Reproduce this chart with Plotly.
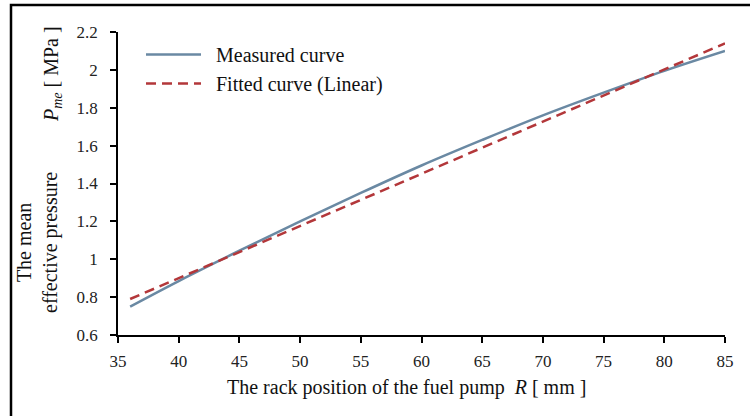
import plotly.graph_objects as go

# Data
rack_measured = [36, 40, 45, 50, 55, 60, 65, 70, 75, 80, 85]
pme_measured = [0.75, 0.885, 1.045, 1.20, 1.35, 1.495, 1.63, 1.76, 1.88, 1.995, 2.10]
rack_fitted = [36, 85]
pme_fitted = [0.79, 2.14]

x_ticks = [35, 40, 45, 50, 55, 60, 65, 70, 75, 80, 85]
y_ticks = [0.6, 0.8, 1.0, 1.2, 1.4, 1.6, 1.8, 2.0, 2.2]

FONT = "Liberation Serif, Times New Roman, serif"

fig = go.Figure()
fig.add_trace(go.Scatter(
    x=rack_measured, y=pme_measured, mode="lines", name="\u00a0\u00a0Measured curve",
    line=dict(color="#6a89a3", width=2.5, shape="spline"), legendgroup="a"))
fig.add_trace(go.Scatter(
    x=rack_fitted, y=pme_fitted, mode="lines", name="\u00a0\u00a0Fitted curve (Linear)",
    line=dict(color="#b3373a", width=2.5, dash="10px,6px"), legendgroup="b"))

L, R, T, B = 118, 25, 32, 81
W, H = 750, 416
pw = W - L - R
ph = H - T - B

def px(xp):
    return (xp - L) / pw

def py(yp):
    return (H - B - yp) / ph

axis_common = dict(showgrid=False, zeroline=False, showline=True, linecolor="black",
                   linewidth=1.5, ticks="outside", ticklen=6, tickwidth=1.5,
                   tickcolor="black", tickfont=dict(family=FONT, size=17, color="#222"))

fig.update_xaxes(range=[35, 85], tickvals=x_ticks, ticklabelstandoff=4, **axis_common)
fig.update_yaxes(range=[0.6, 2.2], tickvals=y_ticks, ticklabelstandoff=9, **axis_common)

fig.update_layout(
    width=W, height=H,
    margin=dict(l=L, r=R, t=T, b=B),
    paper_bgcolor="white", plot_bgcolor="white",
    font=dict(family=FONT, color="#111"),
    legend=dict(x=px(141), y=py(35), xanchor="left", yanchor="top",
                font=dict(family=FONT, size=20, color="#111"),
                itemwidth=55, tracegroupgap=0, bgcolor="rgba(0,0,0,0)"),
    showlegend=True,
    annotations=[
        dict(text="The mean<br>effective pressure", x=px(37), y=py(243),
             xref="paper", yref="paper", textangle=-90, showarrow=False,
             xanchor="center", yanchor="middle",
             font=dict(family=FONT, size=20, color="#111")),
        dict(text="<i>P</i><sub><i>me</i></sub> [ MPa ]", x=px(52), y=py(74),
             xref="paper", yref="paper", textangle=-90, showarrow=False,
             xanchor="center", yanchor="middle",
             font=dict(family=FONT, size=20, color="#111")),
        dict(text="The rack position of the fuel pump\u00a0\u00a0<i>R</i> [ mm ]",
             x=px(406), y=py(387), xref="paper", yref="paper", showarrow=False,
             xanchor="center", yanchor="middle",
             font=dict(family=FONT, size=20, color="#111")),
    ],
    shapes=[
        dict(type="rect", xref="paper", yref="paper",
             x0=px(11), x1=px(770), y0=py(440), y1=py(5),
             line=dict(color="black", width=2.5), layer="above"),
    ],
)

fig.write_html("out.html")
